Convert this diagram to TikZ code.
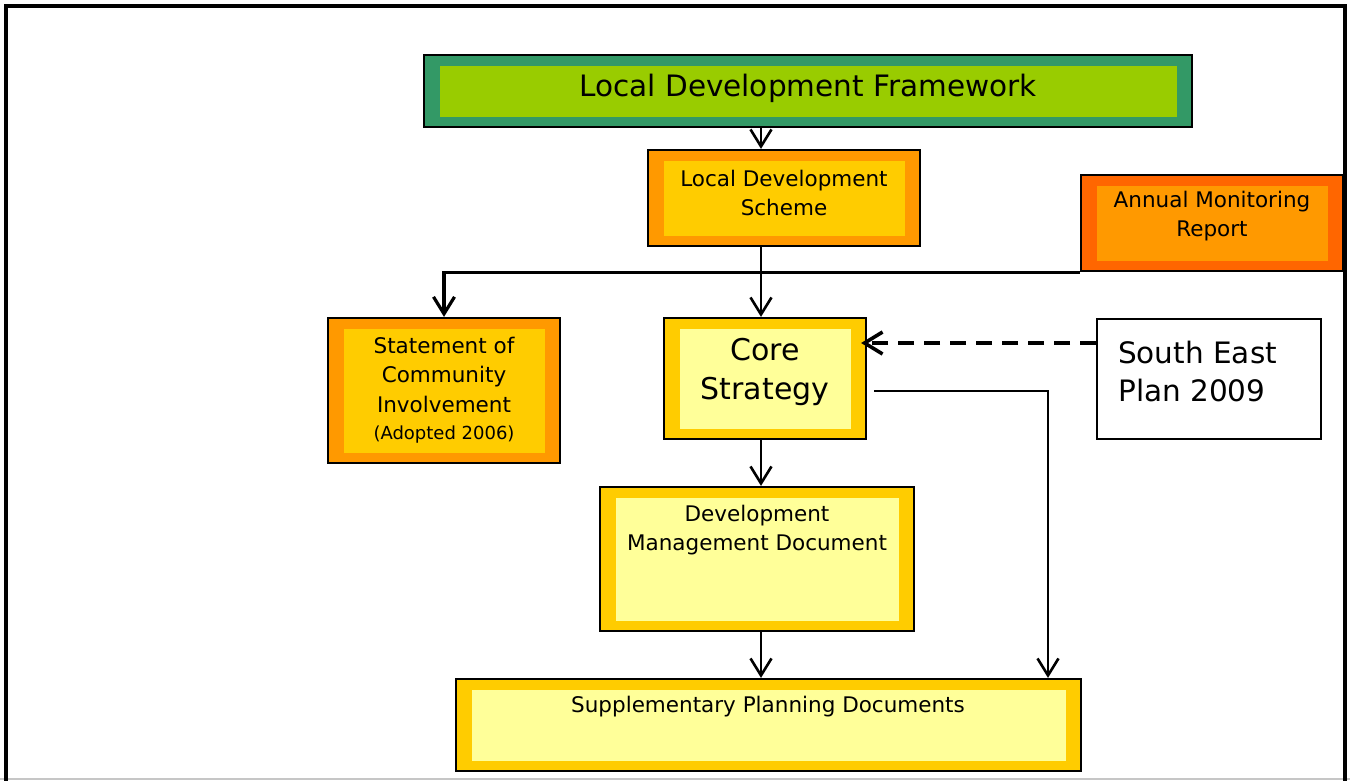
\documentclass[tikz,border=0pt]{standalone}
\usepackage{fontspec}
\setmainfont{DejaVu Sans}
\usetikzlibrary{arrows.meta}
\definecolor{ldfgreen}{HTML}{339966}
\definecolor{ldflime}{HTML}{99CC00}
\definecolor{orangeA}{HTML}{FF9900}
\definecolor{goldA}{HTML}{FFCC00}
\definecolor{paleY}{HTML}{FFFF99}
\definecolor{redO}{HTML}{FF6600}
\tikzset{
  box/.style 2 args={draw=black, line width=2.2pt, fill=#1, inner sep=0pt,
    path picture={\fill[#2] ([shift={(16pt,-11pt)}]path picture bounding box.north west)
      rectangle ([shift={(-15pt,10pt)}]path picture bounding box.south east);}},
  plainbox/.style={draw=black, line width=2pt, fill=white, inner sep=0pt},
  txt/.style={font=\fontsize{21.5}{29.5}\selectfont, align=center, inner sep=0pt},
  bigtxt/.style={font=\fontsize{30}{39}\selectfont, inner sep=0pt},
  arr/.style={line width=2.6pt, -{Straight Barb[length=17pt,width=21pt]}},
  dasharr/.style={line width=3.6pt, dash pattern=on 16pt off 10pt, -{Straight Barb[length=18pt,width=22pt]}},
  feed/.style={line width=3.2pt, -{Straight Barb[length=17pt,width=21pt]}}
}
\begin{document}
\begin{tikzpicture}[x=1pt,y=-1pt]
\useasboundingbox (0,0) rectangle (1350,780);
\draw[gray!45, line width=1.2pt] (0,779) -- (1350,779);
\draw[line width=4pt] (5.5,800) -- (5.5,5.5) -- (1345,5.5) -- (1345,800);

% boxes
\node[box={ldfgreen}{ldflime}, minimum width=768pt, minimum height=72pt] (ldf) at (808,91) {};
\node[box={orangeA}{goldA}, minimum width=272pt, minimum height=96pt] (lds) at (784,198) {};
\node[box={redO}{orangeA}, minimum width=262pt, minimum height=96pt] (amr) at (1212,223) {};
\node[box={orangeA}{goldA}, minimum width=232pt, minimum height=145pt] (sci) at (444,390.5) {};
\node[box={goldA}{paleY}, minimum width=202pt, minimum height=121pt] (cs) at (765,378.5) {};
\node[plainbox, minimum width=224pt, minimum height=120pt] (sep) at (1209,379) {};
\node[box={goldA}{paleY}, minimum width=314pt, minimum height=144pt] (dmd) at (757,559) {};
\node[box={goldA}{paleY}, minimum width=625pt, minimum height=92pt] (spd) at (768.5,725) {};

% texts
\node[txt, font=\fontsize{29.5}{36}\selectfont] (ldf-t) at (808,88) {Local Development Framework};
\node[txt] (lds-t) at (784,193) {Local Development\\Scheme};
\node[txt] (amr-t) at (1212,216) {Annual Monitoring\\Report};
\node[txt] (sci-t) at (444,390) {Statement of\\Community\\Involvement\\[-2pt]{\fontsize{18}{24}\selectfont (Adopted 2006)}};
\node[bigtxt, align=center] (cs-t) at (765,372) {Core\\Strategy};
\node[bigtxt, align=left, anchor=west, font=\fontsize{29.5}{38}\selectfont] (sep-t) at (1118,371) {South East\\Plan 2009};
\node[txt] (dmd-t) at (757,530) {Development\\Management Document};
\node[txt] (spd-t) at (768,707) {Supplementary Planning Documents};

% helper coordinates
\coordinate (cx) at (761,0);
\coordinate (dy) at (0,343);
\coordinate (ry) at (0,391);
\coordinate (rx) at (1048,0);

% connectors
\draw[arr] (ldf.south -| cx) -- (lds.north -| cx);
\draw[arr] (lds.south -| cx) -- (cs.north -| cx);
\draw[feed] (amr.south west) -| (sci.north);
\draw[dasharr, shorten >=-6pt] (sep.west |- dy) -- (cs.east |- dy);
\draw[arr] (cs.south -| cx) -- (dmd.north -| cx);
\draw[arr, shorten <=7pt] (cs.east |- ry) -| (spd.north -| rx);
\draw[arr] (dmd.south -| cx) -- (spd.north -| cx);
\end{tikzpicture}
\end{document}
